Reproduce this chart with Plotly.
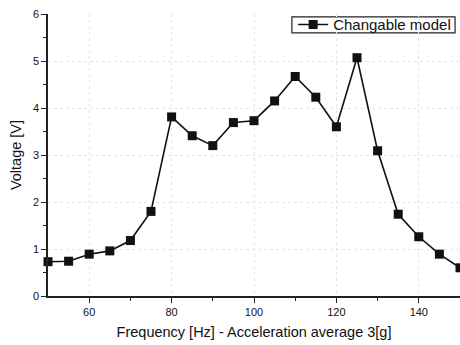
import plotly.graph_objects as go

freq = [50, 55, 60, 65, 70, 75, 80, 85, 90, 95, 100, 105, 110, 115, 120, 125, 130, 135, 140, 145, 150]
voltage = [0.73, 0.74, 0.89, 0.96, 1.18, 1.80, 3.81, 3.41, 3.20, 3.69, 3.73, 4.15, 4.67, 4.23, 3.60, 5.07, 3.09, 1.74, 1.26, 0.89, 0.60]
series_name = "Changable model"

FONT = "Liberation Sans, Arial, sans-serif"

fig = go.Figure()
fig.add_trace(go.Scatter(
    x=freq, y=voltage, mode="lines+markers", name=series_name,
    line=dict(color="#111111", width=1.6),
    marker=dict(symbol="square", size=9, color="#111111"),
    cliponaxis=False,
))

fig.update_layout(
    width=460, height=345,
    margin=dict(l=48, r=0, t=14, b=49),
    plot_bgcolor="white", paper_bgcolor="white",
    font=dict(family=FONT, size=11, color="#111111"),
    showlegend=True,
    legend=dict(x=0.595, y=0.962, xanchor="left", yanchor="middle",
                borderwidth=0, bgcolor="rgba(0,0,0,0)",
                font=dict(family=FONT, size=15, color="#111111"),
                itemwidth=30, tracegroupgap=0),
    shapes=[dict(type="rect", xref="paper", yref="paper",
                 x0=0.592, x1=0.988, y0=0.933, y1=0.990,
                 line=dict(color="#222222", width=1.2), fillcolor="rgba(0,0,0,0)", layer="below")],
)
fig.update_xaxes(
    range=[50, 150], tickvals=[60, 80, 100, 120, 140],
    showline=True, linecolor="#222222", linewidth=1.5,
    ticks="outside", ticklen=5, tickcolor="#222222",
    minor=dict(tickvals=[70, 90, 110, 130, 150], ticks="outside", ticklen=3, tickcolor="#222222", showgrid=False),
    showgrid=True, gridcolor="#e6e6e6", griddash="dot", gridwidth=1,
    zeroline=False,
    title=dict(text="Frequency [Hz] - Acceleration average 3[g]",
               font=dict(family=FONT, size=14.5, color="#111111"), standoff=10),
)
fig.update_yaxes(
    range=[0, 6], dtick=1,
    showline=True, linecolor="#222222", linewidth=1.5,
    ticks="outside", ticklen=5, tickcolor="#222222",
    minor=dict(dtick=0.5, ticks="outside", ticklen=3, tickcolor="#222222", showgrid=False),
    showgrid=True, gridcolor="#e6e6e6", griddash="dot", gridwidth=1,
    zeroline=False,
    title=dict(text="Voltage [V]",
               font=dict(family=FONT, size=14.5, color="#111111"), standoff=8),
)

fig.write_html("out.html")
